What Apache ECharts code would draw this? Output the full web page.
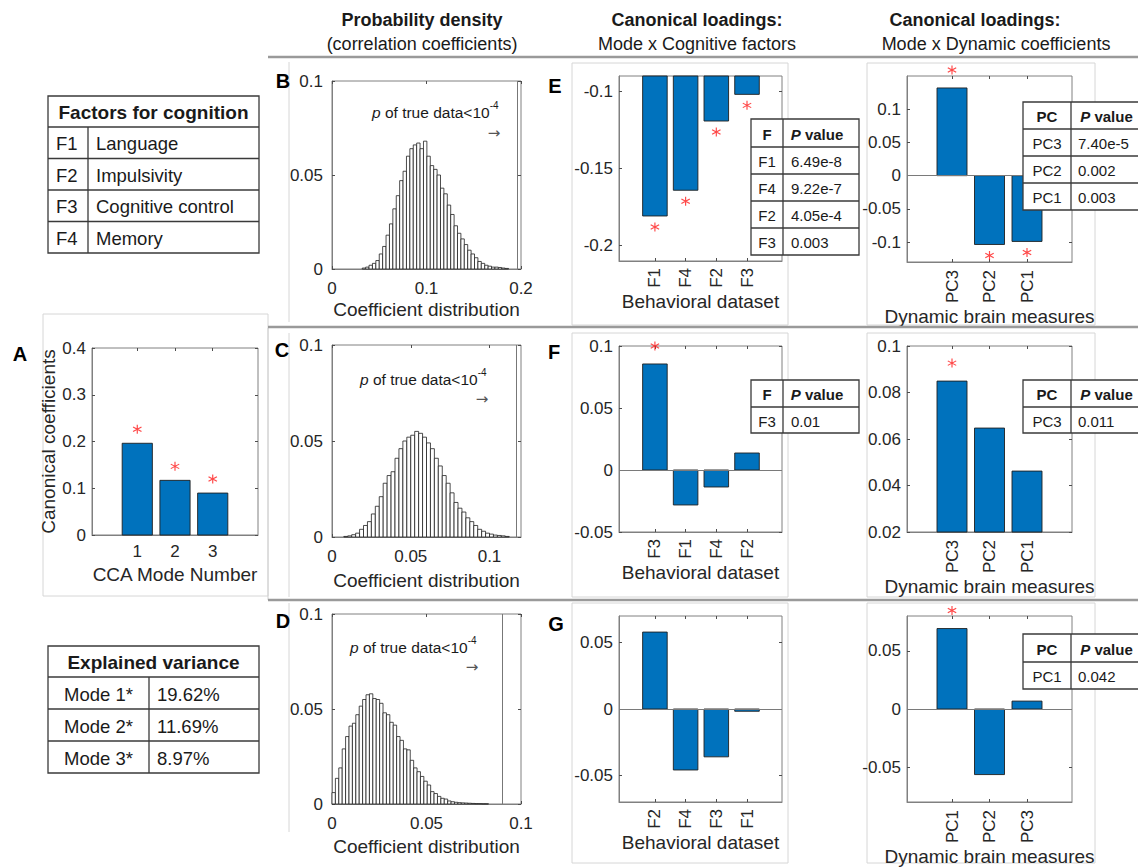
<!DOCTYPE html>
<html><head><meta charset="utf-8">
<script src="https://cdn.jsdelivr.net/npm/echarts@6/dist/echarts.min.js"></script>
<style>html,body{margin:0;padding:0;background:#fff}#c{width:1138px;height:867px}</style>
</head><body><div id="c"></div>
<script>
// ================= DATA =================
// Panel A: canonical coefficients per CCA mode
const modeCategories = ['1', '2', '3'];
const canonicalCoefficients = [0.1962, 0.1169, 0.0897];
const modeSignificant = [true, true, true];
const modeYTicks = [0, 0.1, 0.2, 0.3, 0.4];

// Panels B-D: permutation histograms (probability density)
const histYTicks = [0, 0.05, 0.1];
const histBStart = 0.032, histBBinWidth = 0.0036;
const histBDensity = [0.0005, 0.001, 0.002, 0.003, 0.0045, 0.008, 0.012, 0.018, 0.024, 0.032, 0.039, 0.047, 0.052, 0.060, 0.064, 0.066, 0.067, 0.064, 0.068, 0.060, 0.055, 0.053, 0.050, 0.043, 0.040, 0.034, 0.029, 0.023, 0.019, 0.016, 0.013, 0.010, 0.008, 0.006, 0.004, 0.003, 0.002, 0.0015, 0.001, 0.001, 0.0008, 0.0005, 0.0003];
const histBTrueValue = 0.1962;
const histBXTicks = [0, 0.1, 0.2];

const histCStart = 0.0075, histCBinWidth = 0.0025;
const histCDensity = [0.0003, 0.0006, 0.0012, 0.002, 0.004, 0.006, 0.008, 0.012, 0.016, 0.021, 0.028, 0.032, 0.034, 0.041, 0.046, 0.050, 0.052, 0.053, 0.055, 0.054, 0.052, 0.049, 0.046, 0.041, 0.037, 0.032, 0.028, 0.023, 0.018, 0.015, 0.013, 0.010, 0.008, 0.006, 0.004, 0.003, 0.002, 0.0015, 0.001, 0.0008, 0.0006, 0.0003];
const histCTrueValue = 0.1169;
const histCXTicks = [0, 0.05, 0.1];

const histDStart = 0, histDBinWidth = 0.0018;
const histDDensity = [0.006, 0.0135, 0.019, 0.029, 0.0355, 0.041, 0.0425, 0.047, 0.0515, 0.055, 0.0575, 0.058, 0.0555, 0.055, 0.053, 0.048, 0.047, 0.043, 0.0415, 0.0355, 0.0335, 0.029, 0.0285, 0.023, 0.019, 0.017, 0.0145, 0.012, 0.010, 0.0065, 0.0055, 0.004, 0.003, 0.0026, 0.0016, 0.0012, 0.0009, 0.0007, 0.0006, 0.0005, 0.0004, 0.0003, 0.0002, 0.0002, 0.0001, 0.0001];
const histDTrueValue = 0.0897;
const histDXTicks = [0, 0.05, 0.1];

// Panels E-G: loadings on cognitive factors
const eCategories = ['F1', 'F4', 'F2', 'F3'];
const eLoadings = [-0.1808, -0.1641, -0.1192, -0.1019];
const eSignificant = [true, true, true, true];
const eYTicks = [-0.2, -0.15, -0.1];
const ePCodes = ['F1', 'F4', 'F2', 'F3'];
const ePValues = ['6.49e-8', '9.22e-7', '4.05e-4', '0.003'];

const fCategories = ['F3', 'F1', 'F4', 'F2'];
const fLoadings = [0.0855, -0.0282, -0.0137, 0.0137];
const fSignificant = [true, false, false, false];
const fYTicks = [-0.05, 0, 0.05, 0.1];
const fPCodes = ['F3'];
const fPValues = ['0.01'];

const gCategories = ['F2', 'F4', 'F3', 'F1'];
const gLoadings = [0.0579, -0.0459, -0.0360, -0.0017];
const gSignificant = [false, false, false, false];
const gYTicks = [-0.05, 0, 0.05];

// Right column: loadings on dynamic coefficients
const r1Categories = ['PC3', 'PC2', 'PC1'];
const r1Loadings = [0.1320, -0.1036, -0.0990];
const r1Significant = [true, true, true];
const r1YTicks = [-0.1, -0.05, 0, 0.05, 0.1];
const r1PCodes = ['PC3', 'PC2', 'PC1'];
const r1PValues = ['7.40e-5', '0.002', '0.003'];

const r2Categories = ['PC3', 'PC2', 'PC1'];
const r2Loadings = [0.0849, 0.0647, 0.0462];
const r2Significant = [true, false, false];
const r2YTicks = [0.02, 0.04, 0.06, 0.08, 0.1];
const r2PCodes = ['PC3'];
const r2PValues = ['0.011'];

const r3Categories = ['PC1', 'PC2', 'PC3'];
const r3Loadings = [0.0692, -0.0564, 0.0068];
const r3Significant = [true, false, false];
const r3YTicks = [-0.05, 0, 0.05];
const r3PCodes = ['PC1'];
const r3PValues = ['0.042'];

// Left tables
const factorCodes = ['F1', 'F2', 'F3', 'F4'];
const factorNames = ['Language', 'Impulsivity', 'Cognitive control', 'Memory'];
const modeNames = ['Mode 1*', 'Mode 2*', 'Mode 3*'];
const explainedVariance = ['19.62%', '11.69%', '8.97%'];

// ================= STYLE =================
const FONT = '"Liberation Sans", Arial, Helvetica, sans-serif';
const BOX = '#808080', TICK = '#4d4d4d', LBL = '#262626', TXT = '#1a1a1a';
const BLUE = '#0072BD';
const STAR = 'path://M-1.2,-10L1.2,-10L1.2,10L-1.2,10ZM8.06,-6.04L9.26,-3.96L-8.06,6.04L-9.26,3.96ZM-9.26,-3.96L-8.06,-6.04L9.26,3.96L8.06,6.04Z';
const fmtNum = v => String(Number((+v).toFixed(4)));
const TICK_FS = 17, NAME_FS = 19;

const panels = [
  { // A
    grid: {left: 92, top: 348, width: 166, height: 187},
    x: {min: -0.2, max: 4.2, ticks: [1, 2, 3], cats: modeCategories, rotate: 0, margin: 8, name: 'CCA Mode Number', nameGap: 30},
    y: {min: 0, max: 0.4, ticks: modeYTicks, margin: 6, name: 'Canonical coefficients', nameGap: 29}
  },
  { // B
    grid: {left: 332, top: 81, width: 189, height: 188},
    x: {min: 0, max: 0.2, ticks: histBXTicks, margin: 11, name: 'Coefficient distribution', nameGap: 31},
    y: {min: 0, max: 0.1, ticks: histYTicks, margin: 9}
  },
  { // C
    grid: {left: 332, top: 345, width: 189, height: 192},
    x: {min: 0, max: 0.12, ticks: histCXTicks, margin: 11, name: 'Coefficient distribution', nameGap: 34},
    y: {min: 0, max: 0.1, ticks: histYTicks, margin: 9}
  },
  { // D
    grid: {left: 332, top: 614, width: 189, height: 190},
    x: {min: 0, max: 0.1, ticks: histDXTicks, margin: 11, name: 'Coefficient distribution', nameGap: 33},
    y: {min: 0, max: 0.1, ticks: histYTicks, margin: 9}
  },
  { // E
    grid: {left: 619, top: 76, width: 163, height: 185},
    x: {min: -0.17, max: 5.14, ticks: [1, 2, 3, 4], cats: eCategories, rotate: 90, margin: 7, name: 'Behavioral dataset', nameGap: 31},
    y: {min: -0.21, max: -0.09, ticks: eYTicks, margin: 6}
  },
  { // F
    grid: {left: 619, top: 346, width: 163, height: 186},
    x: {min: -0.17, max: 5.14, ticks: [1, 2, 3, 4], cats: fCategories, rotate: 90, margin: 7, name: 'Behavioral dataset', nameGap: 29},
    y: {min: -0.05, max: 0.1, ticks: fYTicks, margin: 6}
  },
  { // G
    grid: {left: 619, top: 616, width: 163, height: 186},
    x: {min: -0.17, max: 5.14, ticks: [1, 2, 3, 4], cats: gCategories, rotate: 90, margin: 7, name: 'Behavioral dataset', nameGap: 29},
    y: {min: -0.07, max: 0.07, ticks: gYTicks, margin: 6}
  },
  { // R1
    grid: {left: 907, top: 76, width: 165, height: 186},
    x: {min: -0.2, max: 4.2, ticks: [1, 2, 3], cats: r1Categories, rotate: 90, margin: 8, name: 'Dynamic brain measures', nameGap: 41},
    y: {min: -0.13, max: 0.15, ticks: r1YTicks, margin: 6}
  },
  { // R2
    grid: {left: 907, top: 346, width: 165, height: 186},
    x: {min: -0.2, max: 4.2, ticks: [1, 2, 3], cats: r2Categories, rotate: 90, margin: 8, name: 'Dynamic brain measures', nameGap: 41},
    y: {min: 0.02, max: 0.1, ticks: r2YTicks, margin: 6}
  },
  { // R3
    grid: {left: 907, top: 616, width: 165, height: 186},
    x: {min: -0.2, max: 4.2, ticks: [1, 2, 3], cats: r3Categories, rotate: 90, margin: 8, name: 'Dynamic brain measures', nameGap: 42},
    y: {min: -0.08, max: 0.08, ticks: r3YTicks, margin: 6}
  }
];

const grids = [], xAxes = [], yAxes = [], series = [];
panels.forEach((p, gi) => {
  grids.push(Object.assign({show: true, borderColor: BOX, borderWidth: 1, backgroundColor: '#fff', containLabel: false, outerBoundsMode: 'none'}, p.grid));
  const xf = p.x.cats ? (v => p.x.cats[Math.round(v) - 1] || '') : fmtNum;
  const tickStyle = {show: true, inside: true, length: 3, lineStyle: {color: TICK, width: 1}};
  xAxes.push({
    type: 'value', gridIndex: gi, position: 'bottom', min: p.x.min, max: p.x.max,
    splitLine: {show: false}, axisLine: {show: true, onZero: false, lineStyle: {color: BOX}},
    axisTick: Object.assign({customValues: p.x.ticks}, tickStyle),
    axisLabel: {show: true, customValues: p.x.ticks, formatter: xf, rotate: p.x.rotate || 0, margin: p.x.margin, fontSize: TICK_FS, color: LBL, fontFamily: FONT},
    name: p.x.name, nameLocation: 'middle', nameGap: p.x.nameGap,
    nameTextStyle: {fontSize: NAME_FS, color: LBL, fontFamily: FONT}
  });
  xAxes.push({
    type: 'value', gridIndex: gi, position: 'top', min: p.x.min, max: p.x.max,
    splitLine: {show: false}, axisLine: {show: false, onZero: false},
    axisTick: Object.assign({customValues: p.x.ticks}, tickStyle), axisLabel: {show: false}
  });
  const yAx = {
    type: 'value', gridIndex: gi, position: 'left', min: p.y.min, max: p.y.max,
    splitLine: {show: false}, axisLine: {show: true, onZero: false, lineStyle: {color: BOX}},
    axisTick: Object.assign({customValues: p.y.ticks}, tickStyle),
    axisLabel: {show: true, customValues: p.y.ticks, formatter: fmtNum, margin: p.y.margin, fontSize: TICK_FS, color: LBL, fontFamily: FONT}
  };
  if (p.y.name) {
    Object.assign(yAx, {name: p.y.name, nameLocation: 'middle', nameGap: p.y.nameGap, nameRotate: 90,
      nameTextStyle: {fontSize: NAME_FS, color: LBL, fontFamily: FONT}});
  }
  yAxes.push(yAx);
  yAxes.push({
    type: 'value', gridIndex: gi, position: 'right', min: p.y.min, max: p.y.max,
    splitLine: {show: false}, axisLine: {show: false, onZero: false},
    axisTick: Object.assign({customValues: p.y.ticks}, tickStyle), axisLabel: {show: false}
  });
});

function histSeries(gi, start, width, density) {
  return {
    type: 'custom', xAxisIndex: 2 * gi, yAxisIndex: 2 * gi, silent: true,
    data: density.map((d, i) => [start + i * width, start + (i + 1) * width, d]),
    encode: {x: [0, 1], y: 2},
    renderItem(params, api) {
      const a = api.coord([api.value(0), api.value(2)]);
      const b = api.coord([api.value(1), 0]);
      return {type: 'rect', shape: {x: a[0], y: a[1], width: b[0] - a[0], height: b[1] - a[1]},
        style: {fill: '#ffffff', stroke: '#1f1f1f', lineWidth: 0.8}};
    }
  };
}
// vertical line marking the true (observed) coefficient
function trueLineSeries(gi, trueValue) {
  return {
    type: 'custom', xAxisIndex: 2 * gi, yAxisIndex: 2 * gi, silent: true, z: 6, clip: false,
    data: [[trueValue]], encode: {x: 0},
    renderItem(params, api) {
      const cs = params.coordSys;
      const px = Math.round(api.coord([api.value(0), 0])[0]) + 0.5;
      return {type: 'line', shape: {x1: px, y1: cs.y, x2: px, y2: cs.y + cs.height},
        style: {stroke: '#777777', lineWidth: 1}};
    }
  };
}

function barSeries(gi, values, zeroLine) {
  const s = {
    type: 'custom', xAxisIndex: 2 * gi, yAxisIndex: 2 * gi, silent: true,
    data: values.map((v, i) => [i + 1, v]),
    encode: {x: 0, y: 1},
    renderItem(params, api) {
      const cs = params.coordSys;
      const a = api.coord([api.value(0) - 0.4, api.value(1)]);
      const b = api.coord([api.value(0) + 0.4, 0]);
      let y1 = Math.min(a[1], b[1]), y2 = Math.max(a[1], b[1]);
      y1 = Math.max(y1, cs.y); y2 = Math.min(y2, cs.y + cs.height);
      return {type: 'rect', shape: {x: a[0], y: y1, width: b[0] - a[0], height: Math.max(0, y2 - y1)},
        style: {fill: BLUE, stroke: '#1f1f1f', lineWidth: 0.9}};
    }
  };
  if (zeroLine) {
    s.markLine = {silent: true, symbol: 'none', label: {show: false}, animation: false,
      lineStyle: {color: '#7a7a7a', type: 'solid', width: 1}, data: [{yAxis: 0}]};
  }
  return s;
}

function starSeries(gi, values, sig, up, down) {
  const data = [];
  values.forEach((v, i) => {
    if (sig[i]) data.push({value: [i + 1, v], symbolOffset: [0, v >= 0 ? -up : down]});
  });
  return {type: 'scatter', xAxisIndex: 2 * gi, yAxisIndex: 2 * gi, silent: true, clip: false,
    symbol: STAR, symbolSize: 9, itemStyle: {color: '#ff1a1a'}, z: 5, data};
}

series.push(barSeries(0, canonicalCoefficients, false), starSeries(0, canonicalCoefficients, modeSignificant, 14, 11));
series.push(histSeries(1, histBStart, histBBinWidth, histBDensity), trueLineSeries(1, histBTrueValue));
series.push(histSeries(2, histCStart, histCBinWidth, histCDensity), trueLineSeries(2, histCTrueValue));
series.push(histSeries(3, histDStart, histDBinWidth, histDDensity), trueLineSeries(3, histDTrueValue));
series.push(barSeries(4, eLoadings, false), starSeries(4, eLoadings, eSignificant, 18, 11));
series.push(barSeries(5, fLoadings, true), starSeries(5, fLoadings, fSignificant, 18, 11));
series.push(barSeries(6, gLoadings, true), starSeries(6, gLoadings, gSignificant, 18, 11));
series.push(barSeries(7, r1Loadings, true), starSeries(7, r1Loadings, r1Significant, 18, 11));
series.push(barSeries(8, r2Loadings, false), starSeries(8, r2Loadings, r2Significant, 18, 11));
series.push(barSeries(9, r3Loadings, true), starSeries(9, r3Loadings, r3Significant, 18, 11));

// ================= GRAPHIC (text, tables, frames) =================
function txt(x, y, text, size, o) {
  o = o || {};
  const al = o.align || 'left';
  return {type: 'text', x, y, z: 20, silent: true,
    style: Object.assign({text, fill: o.color || TXT,
      font: (o.italic ? 'italic ' : '') + (o.bold ? 'bold ' : '') + size + 'px ' + FONT,
      textAlign: al, align: al, textVerticalAlign: 'middle', verticalAlign: 'middle'}, o.style || {})};
}
function line(x1, y1, x2, y2, color, w, z) {
  return {type: 'line', silent: true, z: z || 15, shape: {x1, y1, x2, y2}, style: {stroke: color, lineWidth: w}};
}
function frameRect(x, y, w, h) {
  return {type: 'rect', silent: true, z: -10, shape: {x, y, width: w, height: h}, style: {fill: null, stroke: '#d6d6d6', lineWidth: 1}};
}

const TB = '#3a3a3a';
function table(cols, top, headH, rowH, header, col1, col2, size, opts) {
  const els = [];
  const n = col1.length;
  const bottom = top + headH + rowH * n;
  const hsize = opts.headSize || size;
  els.push({type: 'rect', silent: true, z: 14, shape: {x: cols[0], y: top, width: cols[2] - cols[0], height: bottom - top},
    style: {fill: '#fff', stroke: TB, lineWidth: 1.3}});
  for (let i = 0; i < n; i++) {
    const yy = top + headH + rowH * i;
    els.push(line(cols[0], yy, cols[2], yy, TB, 1.3));
  }
  els.push(line(cols[1], opts.mergedHeader ? top + headH : top, cols[1], bottom, TB, 1.3));
  if (opts.mergedHeader) {
    els.push(txt((cols[0] + cols[2]) / 2, top + headH / 2 + 1, header, hsize, {bold: true, align: 'center'}));
  } else {
    els.push(txt((cols[0] + cols[1]) / 2, top + headH / 2 + 1, header[0], hsize, {bold: true, align: 'center'}));
    els.push({type: 'text', x: (cols[1] + cols[2]) / 2 - (opts.headShift || 0), y: top + headH / 2 + 1, z: 20, silent: true,
      style: {text: '{i|P}{b| value}', textAlign: 'center', align: 'center', textVerticalAlign: 'middle', verticalAlign: 'middle',
        rich: {i: {fontSize: hsize, fontWeight: 'bold', fontStyle: 'italic', fontFamily: FONT, fill: TXT, color: TXT},
               b: {fontSize: hsize, fontWeight: 'bold', fontFamily: FONT, fill: TXT, color: TXT}}}});
  }
  for (let i = 0; i < n; i++) {
    const cy = top + headH + rowH * i + rowH / 2 + 1;
    if (opts.col1Center) els.push(txt((cols[0] + cols[1]) / 2, cy, col1[i], size, {align: 'center'}));
    else els.push(txt(cols[0] + opts.pad1, cy, col1[i], size));
    els.push(txt(cols[1] + opts.pad2, cy, col2[i], size));
  }
  return els;
}

function annot(x, y, ax, ay) {
  return [
    {type: 'text', x, y, z: 20, silent: true,
      style: {text: '{i|p}{n| of true data<10}{s|-4}', textAlign: 'left', align: 'left', textVerticalAlign: 'middle', verticalAlign: 'middle',
        rich: {i: {fontSize: 15.5, fontStyle: 'italic', fontFamily: FONT, fill: TXT, color: TXT, lineHeight: 24},
               n: {fontSize: 15.5, fontFamily: FONT, fill: TXT, color: TXT, lineHeight: 24},
               s: {fontSize: 10, fontFamily: FONT, fill: TXT, color: TXT, lineHeight: 12, verticalAlign: 'top'}}}},
    txt(ax, ay, '\u2192', 15, {color: '#555', align: 'center', style: {font: '15px "DejaVu Sans", sans-serif'}})
  ];
}

const graphics = [
  // frames
  frameRect(43, 314, 225, 282),
  line(268, 328, 268, 600, '#d0d0d0', 1, -10),
  line(289, 62, 289, 322, '#d6d6d6', 1, -10),
  line(289, 333, 289, 597, '#d6d6d6', 1, -10),
  line(289, 603, 289, 832, '#d6d6d6', 1, -10),
  frameRect(572, 63, 216, 262), frameRect(572, 333, 216, 264), frameRect(572, 603, 216, 260),
  frameRect(867, 63, 228, 262), frameRect(867, 333, 228, 264), frameRect(867, 603, 228, 260),
  // separators
  line(268, 57, 1138, 57, '#9a9a9a', 2.5, 12),
  line(268, 327, 1138, 327, '#9a9a9a', 2.5, 12),
  line(268, 600, 1138, 600, '#9a9a9a', 2.5, 12),
  // column headers
  txt(422, 20, 'Probability density', 18, {bold: true, align: 'center'}),
  txt(422, 44, '(correlation coefficients)', 18, {align: 'center'}),
  txt(697, 20, 'Canonical loadings:', 18, {bold: true, align: 'center'}),
  txt(697, 44, 'Mode x Cognitive factors', 18, {align: 'center'}),
  txt(975, 20, 'Canonical loadings:', 18, {bold: true, align: 'center'}),
  txt(996, 44, 'Mode x Dynamic coefficients', 18, {align: 'center'}),
  // panel letters
  txt(20, 354, 'A', 20, {bold: true, align: 'center', color: '#000'}),
  txt(283, 81, 'B', 20, {bold: true, align: 'center', color: '#000'}),
  txt(282, 350, 'C', 20, {bold: true, align: 'center', color: '#000'}),
  txt(283, 621, 'D', 20, {bold: true, align: 'center', color: '#000'}),
  txt(555, 86, 'E', 20, {bold: true, align: 'center', color: '#000'}),
  txt(554, 352, 'F', 20, {bold: true, align: 'center', color: '#000'}),
  txt(556, 624, 'G', 20, {bold: true, align: 'center', color: '#000'})
];
graphics.push(...annot(372, 112, 494, 133));
graphics.push(...annot(360, 379, 482, 399));
graphics.push(...annot(350, 647, 472, 667));
graphics.push(...table([48, 88, 259], 96, 31, 31.5, 'Factors for cognition', factorCodes, factorNames, 18.5, {mergedHeader: true, headSize: 19, pad1: 8, pad2: 8}));
graphics.push(...table([48, 149, 259], 646, 31, 32, 'Explained variance', modeNames, explainedVariance, 18.5, {mergedHeader: true, headSize: 19, col1Center: true, pad2: 8}));
graphics.push(...table([751, 783, 859], 119, 28, 27, ['F'], ePCodes, ePValues, 15, {col1Center: true, pad2: 8, headShift: 4}));
graphics.push(...table([751, 783, 859], 380, 27, 26, ['F'], fPCodes, fPValues, 15, {col1Center: true, pad2: 8, headShift: 4}));
graphics.push(...table([1023, 1071, 1142], 102, 27, 27, ['PC'], r1PCodes, r1PValues, 15, {col1Center: true, pad2: 7, headShift: 0}));
graphics.push(...table([1023, 1071, 1142], 380, 27, 26, ['PC'], r2PCodes, r2PValues, 15, {col1Center: true, pad2: 7, headShift: 0}));
graphics.push(...table([1023, 1071, 1142], 634, 28, 27, ['PC'], r3PCodes, r3PValues, 15, {col1Center: true, pad2: 7, headShift: 0}));

const chart = echarts.init(document.getElementById('c'), null, {renderer: 'svg', width: 1138, height: 867});
chart.setOption({
  animation: false,
  backgroundColor: '#ffffff',
  textStyle: {fontFamily: FONT},
  grid: grids, xAxis: xAxes, yAxis: yAxes, series,
  graphic: {elements: graphics}
});
</script></body></html>
